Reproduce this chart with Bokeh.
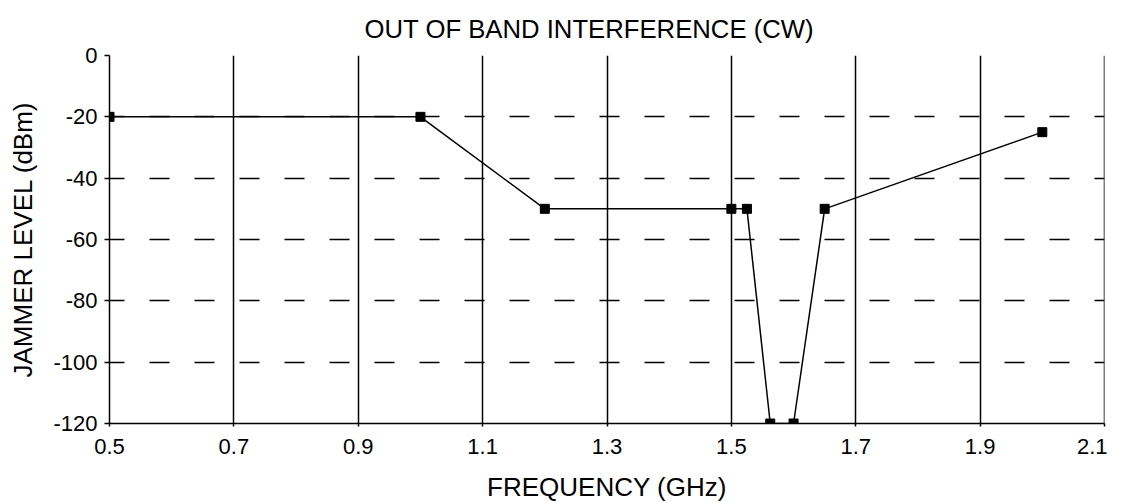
from bokeh.plotting import figure
from bokeh.models import FixedTicker, Range1d, Span, ColumnDataSource, Title
from bokeh.embed import file_html
from bokeh.resources import INLINE

# Data
freq_ghz = [0.5, 1.0, 1.2, 1.5, 1.525, 1.5625, 1.6, 1.65, 2.0]
jammer_dbm = [-20, -20, -50, -50, -50, -120, -120, -50, -25]

x_ticks = [0.5, 0.7, 0.9, 1.1, 1.3, 1.5, 1.7, 1.9, 2.1]
x_tick_labels = ["0.5", "0.7", "0.9", "1.1", "1.3", "1.5", "1.7", "1.9", "2.1"]
y_ticks = [0, -20, -40, -60, -80, -100, -120]
y_tick_labels = ["0", "-20", "-40", "-60", "-80", "-100", "-120"]

title_text = "OUT OF BAND INTERFERENCE (CW)"
x_label = "FREQUENCY (GHz)"
y_label = "JAMMER LEVEL (dBm)"

FONT = "Liberation Sans"

src = ColumnDataSource(dict(x=freq_ghz, y=jammer_dbm))

p = figure(
    frame_width=995, frame_height=368,
    min_border_left=109, min_border_right=3,
    min_border_top=55, min_border_bottom=72,
    x_range=Range1d(x_ticks[0], x_ticks[-1]),
    y_range=Range1d(y_ticks[-1], y_ticks[0]),
    output_backend="svg", toolbar_location=None,
    background_fill_color="white", border_fill_color="white",
)
p.outline_line_color = None

t = Title(text=title_text, align="left", text_font=FONT,
          text_font_size="25.7px", text_font_style="normal", text_color="black",
          standoff=25, offset=255)
p.add_layout(t, "above")

# axes
p.xaxis.ticker = FixedTicker(ticks=x_ticks)
p.xaxis.major_label_overrides = dict(zip(x_ticks, x_tick_labels))
p.yaxis.ticker = FixedTicker(ticks=y_ticks)
p.yaxis.major_label_overrides = dict(zip(y_ticks, y_tick_labels))

for ax in (p.xaxis, p.yaxis):
    ax.axis_line_color = "black"
    ax.axis_line_width = 1.5
    ax.major_tick_line_color = "black"
    ax.major_tick_line_width = 1.5
    ax.minor_tick_line_color = None
    ax.major_tick_in = 0
    ax.major_label_text_font = FONT
    ax.major_label_text_font_size = "22px"
    ax.major_label_text_color = "black"
    ax.axis_label_text_font = FONT
    ax.axis_label_text_font_size = "26px"
    ax.axis_label_text_font_style = "normal"
    ax.axis_label_text_color = "black"

p.xaxis.axis_label = x_label
p.yaxis.axis_label = y_label
p.xaxis.major_tick_out = 3
p.yaxis.major_tick_out = 5
p.xaxis.major_label_standoff = 12
p.yaxis.major_label_standoff = 7
p.xaxis.axis_label_standoff = 15
p.yaxis.axis_label_standoff = 12

# grids
p.xgrid.ticker = FixedTicker(ticks=x_ticks)
p.ygrid.ticker = FixedTicker(ticks=y_ticks)
p.xgrid.grid_line_color = "black"
p.xgrid.grid_line_width = 1.5
p.xgrid.grid_line_alpha = 1
p.ygrid.grid_line_color = "black"
p.ygrid.grid_line_width = 1.5
p.ygrid.grid_line_alpha = 1
p.ygrid.grid_line_dash = "20 25"
p.ygrid.grid_line_dash_offset = 5

p.add_layout(Span(location=x_ticks[-1], dimension="height", line_color="black", line_width=1.5))

p.line("x", "y", source=src, line_color="black", line_width=1.5)
p.scatter("x", "y", source=src, marker="square", size=9,
          fill_color="black", line_color="black")

open("out.html", "w").write(file_html(p, INLINE))
